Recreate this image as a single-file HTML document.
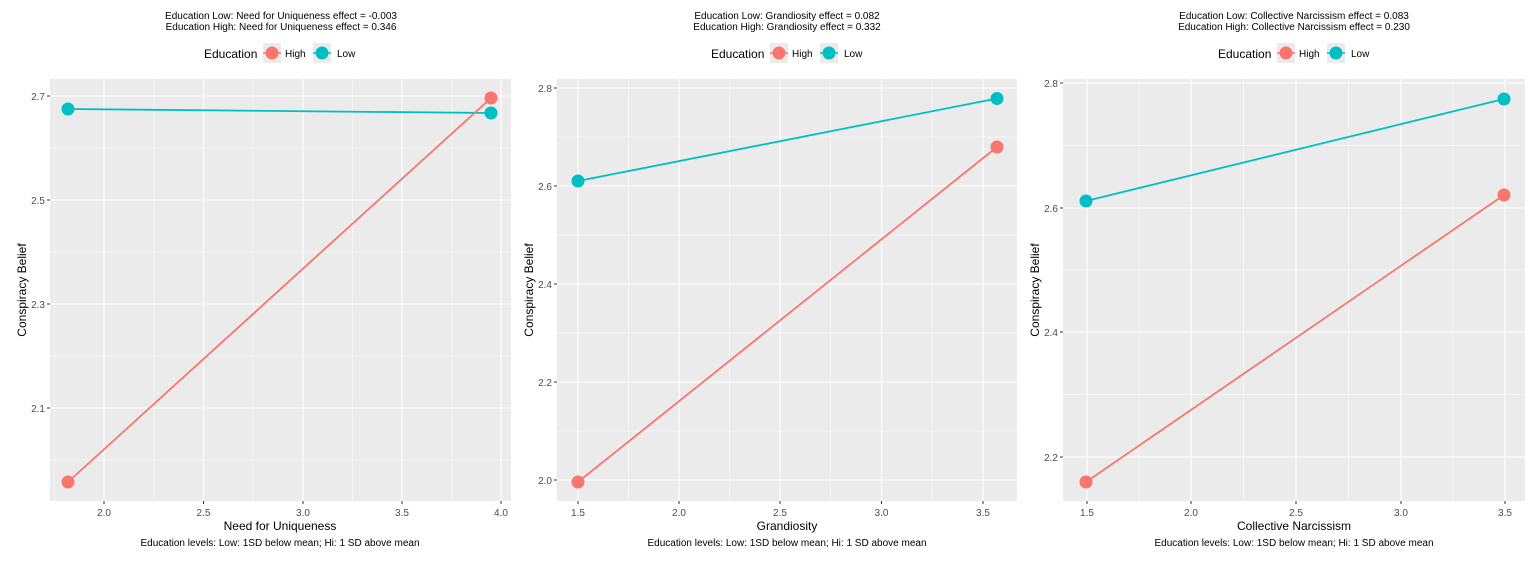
<!DOCTYPE html>
<html><head><meta charset="utf-8"><style>
html,body{margin:0;padding:0;background:#fff}
svg{display:block;font-family:"Liberation Sans",Arial,sans-serif}
.t{font-size:10px;fill:#000}
.tk{font-size:10px;fill:#4d4d4d}
.ax{font-size:12px;fill:#000}
.lg{font-size:12px;fill:#000}
.lk{font-size:10px;fill:#000}
.mj{stroke:#fff;stroke-width:1.1}
.mn{stroke:#fff;stroke-width:0.5}
.tm{stroke:#333;stroke-width:1}
</style></head><body>
<svg width="1535" height="563" viewBox="0 0 1535 563" xmlns="http://www.w3.org/2000/svg">
<rect width="1535" height="563" fill="#fff"/>

<!-- Panel 1 -->
<g>
<text class="t" x="281" y="19" text-anchor="middle">Education Low: Need for Uniqueness effect = -0.003</text>
<text class="t" x="281" y="30" text-anchor="middle">Education High: Need for Uniqueness effect = 0.346</text>
<text class="lg" x="204" y="58">Education</text>
<rect x="263" y="43" width="18" height="20" fill="#ebebeb"/>
<line x1="263" y1="53" x2="281" y2="53" stroke="#F8766D" stroke-width="1.5"/>
<circle cx="272" cy="53" r="6.5" fill="#F8766D"/>
<text class="lk" x="285" y="57">High</text>
<rect x="313" y="43" width="18" height="20" fill="#ebebeb"/>
<line x1="313" y1="53" x2="331" y2="53" stroke="#00BFC4" stroke-width="1.5"/>
<circle cx="322" cy="53" r="6.5" fill="#00BFC4"/>
<text class="lk" x="337" y="57">Low</text>
<rect x="50" y="79" width="461" height="422" fill="#ebebeb"/>
<g class="mn">
<line x1="54.5" y1="79" x2="54.5" y2="501"/><line x1="154" y1="79" x2="154" y2="501"/><line x1="253" y1="79" x2="253" y2="501"/><line x1="352.5" y1="79" x2="352.5" y2="501"/><line x1="452" y1="79" x2="452" y2="501"/>
<line x1="50" y1="148" x2="511" y2="148"/><line x1="50" y1="252" x2="511" y2="252"/><line x1="50" y1="356" x2="511" y2="356"/><line x1="50" y1="460" x2="511" y2="460"/>
</g>
<g class="mj">
<line x1="104" y1="79" x2="104" y2="501"/><line x1="203.5" y1="79" x2="203.5" y2="501"/><line x1="303" y1="79" x2="303" y2="501"/><line x1="402" y1="79" x2="402" y2="501"/><line x1="501" y1="79" x2="501" y2="501"/>
<line x1="50" y1="96" x2="511" y2="96"/><line x1="50" y1="200" x2="511" y2="200"/><line x1="50" y1="304" x2="511" y2="304"/><line x1="50" y1="408" x2="511" y2="408"/>
</g>
<g class="tm">
<line x1="47" y1="96" x2="50" y2="96"/><line x1="47" y1="200" x2="50" y2="200"/><line x1="47" y1="304" x2="50" y2="304"/><line x1="47" y1="408" x2="50" y2="408"/>
<line x1="104" y1="501" x2="104" y2="504"/><line x1="203.5" y1="501" x2="203.5" y2="504"/><line x1="303" y1="501" x2="303" y2="504"/><line x1="402" y1="501" x2="402" y2="504"/><line x1="501" y1="501" x2="501" y2="504"/>
</g>
<g class="tk" text-anchor="end">
<text x="45" y="100">2.7</text><text x="45" y="204">2.5</text><text x="45" y="308">2.3</text><text x="45" y="412">2.1</text>
</g>
<g class="tk" text-anchor="middle">
<text x="104" y="516">2.0</text><text x="203.5" y="516">2.5</text><text x="303" y="516">3.0</text><text x="402" y="516">3.5</text><text x="501" y="516">4.0</text>
</g>
<line x1="68" y1="109" x2="491" y2="113" stroke="#00BFC4" stroke-width="1.8"/>
<line x1="68" y1="482" x2="491" y2="98" stroke="#F8766D" stroke-width="1.8"/>
<circle cx="68" cy="109" r="6.5" fill="#00BFC4"/><circle cx="491" cy="113" r="6.5" fill="#00BFC4"/>
<circle cx="68" cy="482" r="6.5" fill="#F8766D"/><circle cx="491" cy="98" r="6.5" fill="#F8766D"/>
<text class="ax" x="280" y="530" text-anchor="middle">Need for Uniqueness</text>
<text class="t" x="280" y="546" text-anchor="middle">Education levels: Low: 1SD below mean; Hi: 1 SD above mean</text>
<text class="ax" transform="translate(26,290) rotate(-90)" text-anchor="middle">Conspiracy Belief</text>
</g>

<!-- Panel 2 -->
<g>
<text class="t" x="787" y="19" text-anchor="middle">Education Low: Grandiosity effect = 0.082</text>
<text class="t" x="787" y="30" text-anchor="middle">Education High: Grandiosity effect = 0.332</text>
<text class="lg" x="711" y="58">Education</text>
<rect x="770" y="43" width="18" height="20" fill="#ebebeb"/>
<line x1="770" y1="53" x2="788" y2="53" stroke="#F8766D" stroke-width="1.5"/>
<circle cx="779" cy="53" r="6.5" fill="#F8766D"/>
<text class="lk" x="792" y="57">High</text>
<rect x="820" y="43" width="18" height="20" fill="#ebebeb"/>
<line x1="820" y1="53" x2="838" y2="53" stroke="#00BFC4" stroke-width="1.5"/>
<circle cx="829" cy="53" r="6.5" fill="#00BFC4"/>
<text class="lk" x="844" y="57">Low</text>
<rect x="557" y="79" width="460" height="422" fill="#ebebeb"/>
<g class="mn">
<line x1="628.5" y1="79" x2="628.5" y2="501"/><line x1="729.5" y1="79" x2="729.5" y2="501"/><line x1="830.5" y1="79" x2="830.5" y2="501"/><line x1="932" y1="79" x2="932" y2="501"/>
<line x1="557" y1="137" x2="1017" y2="137"/><line x1="557" y1="235" x2="1017" y2="235"/><line x1="557" y1="333" x2="1017" y2="333"/><line x1="557" y1="431" x2="1017" y2="431"/>
</g>
<g class="mj">
<line x1="578" y1="79" x2="578" y2="501"/><line x1="679" y1="79" x2="679" y2="501"/><line x1="780" y1="79" x2="780" y2="501"/><line x1="881.5" y1="79" x2="881.5" y2="501"/><line x1="983" y1="79" x2="983" y2="501"/>
<line x1="557" y1="88" x2="1017" y2="88"/><line x1="557" y1="186" x2="1017" y2="186"/><line x1="557" y1="284" x2="1017" y2="284"/><line x1="557" y1="382" x2="1017" y2="382"/><line x1="557" y1="480" x2="1017" y2="480"/>
</g>
<g class="tm">
<line x1="554" y1="88" x2="557" y2="88"/><line x1="554" y1="186" x2="557" y2="186"/><line x1="554" y1="284" x2="557" y2="284"/><line x1="554" y1="382" x2="557" y2="382"/><line x1="554" y1="480" x2="557" y2="480"/>
<line x1="578" y1="501" x2="578" y2="504"/><line x1="679" y1="501" x2="679" y2="504"/><line x1="780" y1="501" x2="780" y2="504"/><line x1="881.5" y1="501" x2="881.5" y2="504"/><line x1="983" y1="501" x2="983" y2="504"/>
</g>
<g class="tk" text-anchor="end">
<text x="552" y="92">2.8</text><text x="552" y="190">2.6</text><text x="552" y="288">2.4</text><text x="552" y="386">2.2</text><text x="552" y="484">2.0</text>
</g>
<g class="tk" text-anchor="middle">
<text x="578" y="516">1.5</text><text x="679" y="516">2.0</text><text x="780" y="516">2.5</text><text x="881.5" y="516">3.0</text><text x="983" y="516">3.5</text>
</g>
<line x1="578" y1="181" x2="997" y2="98.5" stroke="#00BFC4" stroke-width="1.8"/>
<line x1="578" y1="482" x2="997" y2="147" stroke="#F8766D" stroke-width="1.8"/>
<circle cx="578" cy="181" r="6.5" fill="#00BFC4"/><circle cx="997" cy="98.5" r="6.5" fill="#00BFC4"/>
<circle cx="578" cy="482" r="6.5" fill="#F8766D"/><circle cx="997" cy="147" r="6.5" fill="#F8766D"/>
<text class="ax" x="787" y="530" text-anchor="middle">Grandiosity</text>
<text class="t" x="787" y="546" text-anchor="middle">Education levels: Low: 1SD below mean; Hi: 1 SD above mean</text>
<text class="ax" transform="translate(533,290) rotate(-90)" text-anchor="middle">Conspiracy Belief</text>
</g>

<!-- Panel 3 -->
<g>
<text class="t" x="1294" y="19" text-anchor="middle">Education Low: Collective Narcissism effect = 0.083</text>
<text class="t" x="1294" y="30" text-anchor="middle">Education High: Collective Narcissism effect = 0.230</text>
<text class="lg" x="1218" y="58">Education</text>
<rect x="1277" y="43" width="18" height="20" fill="#ebebeb"/>
<line x1="1277" y1="53" x2="1295" y2="53" stroke="#F8766D" stroke-width="1.5"/>
<circle cx="1286" cy="53" r="6.5" fill="#F8766D"/>
<text class="lk" x="1299" y="57">High</text>
<rect x="1327" y="43" width="18" height="20" fill="#ebebeb"/>
<line x1="1327" y1="53" x2="1345" y2="53" stroke="#00BFC4" stroke-width="1.5"/>
<circle cx="1336" cy="53" r="6.5" fill="#00BFC4"/>
<text class="lk" x="1351" y="57">Low</text>
<rect x="1063" y="79" width="462" height="422" fill="#ebebeb"/>
<g class="mn">
<line x1="1139" y1="79" x2="1139" y2="501"/><line x1="1243.5" y1="79" x2="1243.5" y2="501"/><line x1="1348.5" y1="79" x2="1348.5" y2="501"/><line x1="1453" y1="79" x2="1453" y2="501"/>
<line x1="1063" y1="145.5" x2="1525" y2="145.5"/><line x1="1063" y1="270" x2="1525" y2="270"/><line x1="1063" y1="394.5" x2="1525" y2="394.5"/>
</g>
<g class="mj">
<line x1="1087" y1="79" x2="1087" y2="501"/><line x1="1191" y1="79" x2="1191" y2="501"/><line x1="1296" y1="79" x2="1296" y2="501"/><line x1="1401" y1="79" x2="1401" y2="501"/><line x1="1505" y1="79" x2="1505" y2="501"/>
<line x1="1063" y1="83" x2="1525" y2="83"/><line x1="1063" y1="208" x2="1525" y2="208"/><line x1="1063" y1="332" x2="1525" y2="332"/><line x1="1063" y1="457" x2="1525" y2="457"/>
</g>
<g class="tm">
<line x1="1060" y1="83" x2="1063" y2="83"/><line x1="1060" y1="208" x2="1063" y2="208"/><line x1="1060" y1="332" x2="1063" y2="332"/><line x1="1060" y1="457" x2="1063" y2="457"/>
<line x1="1087" y1="501" x2="1087" y2="504"/><line x1="1191" y1="501" x2="1191" y2="504"/><line x1="1296" y1="501" x2="1296" y2="504"/><line x1="1401" y1="501" x2="1401" y2="504"/><line x1="1505" y1="501" x2="1505" y2="504"/>
</g>
<g class="tk" text-anchor="end">
<text x="1058" y="87">2.8</text><text x="1058" y="212">2.6</text><text x="1058" y="336">2.4</text><text x="1058" y="461">2.2</text>
</g>
<g class="tk" text-anchor="middle">
<text x="1087" y="516">1.5</text><text x="1191" y="516">2.0</text><text x="1296" y="516">2.5</text><text x="1401" y="516">3.0</text><text x="1505" y="516">3.5</text>
</g>
<line x1="1086" y1="201" x2="1504" y2="99" stroke="#00BFC4" stroke-width="1.8"/>
<line x1="1086" y1="482" x2="1504" y2="195" stroke="#F8766D" stroke-width="1.8"/>
<circle cx="1086" cy="201" r="6.5" fill="#00BFC4"/><circle cx="1504" cy="99" r="6.5" fill="#00BFC4"/>
<circle cx="1086" cy="482" r="6.5" fill="#F8766D"/><circle cx="1504" cy="195" r="6.5" fill="#F8766D"/>
<text class="ax" x="1294" y="530" text-anchor="middle">Collective Narcissism</text>
<text class="t" x="1294" y="546" text-anchor="middle">Education levels: Low: 1SD below mean; Hi: 1 SD above mean</text>
<text class="ax" transform="translate(1039,290) rotate(-90)" text-anchor="middle">Conspiracy Belief</text>
</g>
</svg>
</body></html>
